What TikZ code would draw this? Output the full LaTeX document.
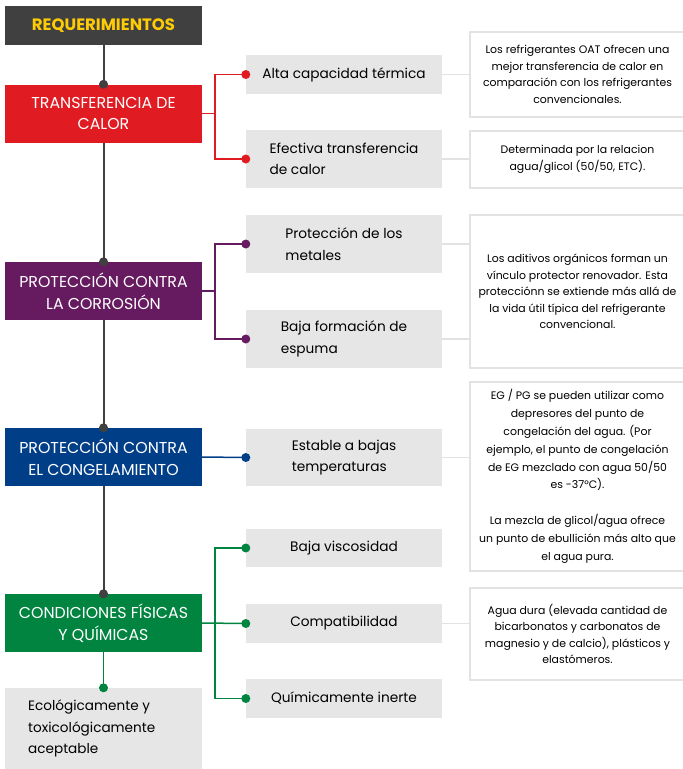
\documentclass[tikz,border=0pt]{standalone}
\usepackage{fontspec}
\setmainfont{Poppins}
\definecolor{cred}{HTML}{E11B22}
\definecolor{cpurple}{HTML}{661A5F}
\definecolor{cblue}{HTML}{003F88}
\definecolor{cgreen}{HTML}{00843F}
\definecolor{cdark}{HTML}{404040}
\definecolor{cyellow}{HTML}{FFCB05}
\definecolor{cgray}{HTML}{E6E6E6}
\definecolor{cline}{HTML}{E2E2E2}
\begin{document}
\begin{tikzpicture}[x=1pt,y=-1pt,
  cat/.style={minimum width=197pt,minimum height=58pt,inner sep=0pt,text=white,align=center,
    font=\fontsize{15.8}{21.5}\selectfont},
  item/.style={fill=cgray,minimum width=196pt,inner sep=0pt,align=left,
    font=\fontsize{13.7}{21.5}\selectfont},
  desc/.style={draw=cline,line width=1.5pt,fill=white,minimum width=215pt,inner sep=0pt,align=center,
    font=\fontsize{10.9}{16.5}\selectfont},
  spine/.style={draw=cdark,line width=2pt},
  branch/.style={line width=1.5pt},
  link/.style={draw=cline,line width=1.5pt},
]
\useasboundingbox (0,0) rectangle (683,769);
% header
\node[fill=cdark,minimum width=197pt,minimum height=39pt,inner sep=0pt,text=cyellow,
  font=\fontsize{16.5}{18}\selectfont\bfseries] (req) at (103.5,25.5) {REQUERIMIENTOS};
% categories
\node[cat,fill=cred] (red) at (103.5,113.5) {TRANSFERENCIA DE\\CALOR};
\node[cat,fill=cpurple] (pur) at (103.5,291) {PROTECCIÓN CONTRA\\LA CORROSIÓN};
\node[cat,fill=cblue] (blu) at (103.5,457) {PROTECCIÓN CONTRA\\EL CONGELAMIENTO};
\node[cat,fill=cgreen] (grn) at (103.5,623) {CONDICIONES FÍSICAS\\Y QUÍMICAS};
\node[fill=cgray,minimum width=197pt,minimum height=81pt,inner sep=0pt] (eco) at (103.5,728.5) {};
\node[anchor=west,align=left,inner sep=0pt,font=\fontsize{13.6}{21.5}\selectfont] (ecot) at (28,728.5)
  {Ecológicamente y\\toxicológicamente\\aceptable};
% items
\node[item,minimum height=39pt] (alta) at (344,74.5) {Alta capacidad térmica};
\node[item,minimum height=58pt] (efe) at (344,159) {Efectiva transferencia\\de calor};
\node[item,minimum height=58pt] (met) at (344,244) {Protección de los\\metales};
\node[item,minimum height=58pt] (esp) at (344,339) {Baja formación de\\espuma};
\node[item,minimum height=57pt] (est) at (344,457.5) {Estable a bajas\\temperaturas};
\node[item,minimum height=38pt] (vis) at (344,548) {Baja viscosidad};
\node[item,minimum height=39pt] (com) at (344,623.5) {Compatibilidad};
\node[item,minimum height=39pt] (ine) at (344,698.5) {Químicamente inerte};
% descriptions
\node[desc,minimum height=85pt] (d1) at (577.5,74.5) {Los refrigerantes OAT ofrecen una\\mejor transferencia de calor en\\comparación con los refrigerantes\\convencionales.};
\node[desc,minimum height=57pt] (d2) at (577.5,159.5) {Determinada por la relacion\\agua/glicol (50/50, ETC).};
\node[desc,minimum height=153pt] (d3) at (577.5,291.5) {Los aditivos orgánicos forman un\\vínculo protector renovador. Esta\\protecciónn se extiende más allá de\\la vida útil típica del refrigerante\\convencional.};
\node[desc,minimum height=189pt,font=\fontsize{10.9}{17.8}\selectfont] (d4) at (577.5,476.5) {EG / PG se pueden utilizar como\\depresores del punto de\\congelación del agua. (Por\\ejemplo, el punto de congelación\\de EG mezclado con agua 50/50\\es -37°C).\\[18pt]La mezcla de glicol/agua ofrece\\un punto de ebullición más alto que\\el agua pura.};
\node[desc,minimum height=92pt] (d5) at (577.5,634) {Agua dura (elevada cantidad de\\bicarbonatos y carbonatos de\\magnesio y de calcio), plásticos y\\elastómeros.};
% gray links
\draw[link] (alta.east) -- (alta.east -| d1.west);
\draw[link] (efe.east) -- (efe.east -| d2.west);
\draw[link] (met.east) -- (met.east -| d3.west);
\draw[link] (esp.east) -- (esp.east -| d3.west);
\draw[link] (est.east) -- (est.east -| d4.west);
\draw[link] (com.east) -- (com.east -| d5.west);
% spine
\draw[spine] (req.south) -- (red.north);
\draw[spine] (red.south) -- (pur.north);
\draw[spine] (pur.south) -- (blu.north);
\draw[spine] (blu.south) -- (grn.north);
\foreach \n in {red,pur,blu,grn} \fill[cdark] (\n.north) circle (4.5pt);
% green to eco
\draw[branch,draw=cgreen] (grn.south) -- (eco.north);
\fill[cgreen] (eco.north) circle (4.5pt);
% branches
\coordinate (jr) at (215,113.5);
\coordinate (jp) at (215,291);
\coordinate (jg) at (215,623);
\draw[branch,draw=cred] (red.east) -- (jr);
\draw[branch,draw=cred] (alta.west) -| (jr) |- (efe.west);
\draw[branch,draw=cpurple] (pur.east) -- (jp);
\draw[branch,draw=cpurple] (met.west) -| (jp) |- (esp.west);
\draw[branch,draw=cblue] (blu.east) -- (est.west);
\draw[branch,draw=cgreen] (grn.east) -- (com.west);
\draw[branch,draw=cgreen] (vis.west) -| (jg) |- (ine.west);
\foreach \n in {alta,efe} \fill[cred] (\n.west) circle (4.5pt);
\foreach \n in {met,esp} \fill[cpurple] (\n.west) circle (4.5pt);
\fill[cblue] (est.west) circle (4.5pt);
\foreach \n in {vis,com,ine} \fill[cgreen] (\n.west) circle (4.5pt);
\end{tikzpicture}
\end{document}
